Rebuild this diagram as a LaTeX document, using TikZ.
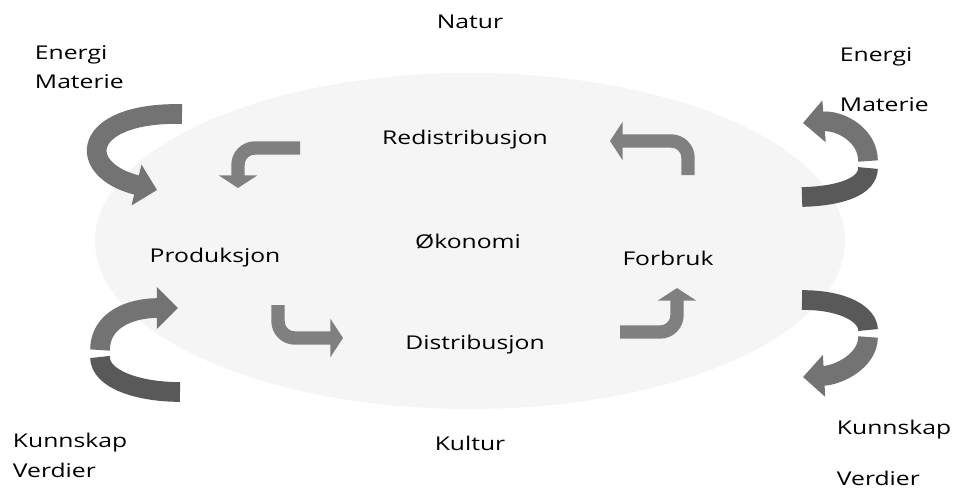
\documentclass[tikz,border=0pt]{standalone}
\usepackage{fontspec}
\setmainfont[FakeStretch=1.3]{Open Sans}
\usetikzlibrary{arrows.meta}

\begin{document}
\begin{tikzpicture}[x=0.025cm, y=-0.025cm,
	lbl/.style={font=\fontsize{13.5}{16}\selectfont, text=black},
	bigarrow/.style={draw=black!55, line width=14pt, -{Triangle[width=29pt,length=15pt]}},
	bigband/.style={draw=black!65, line width=14pt},
	smallarrow/.style={draw=black!50, line width=9.5pt, rounded corners=12pt, -{Triangle[width=27pt,length=9pt]}}]
	\useasboundingbox (0,0) rectangle (957,488);
	\fill[black!4] (470,241) ellipse [x radius=375, y radius=168];

	% ytre piler
	\draw[bigarrow] (182,114) .. controls (80,112) and (75,170) .. (157,190);
	\draw[bigarrow] (868,161) .. controls (868,135) and (840,120) .. (803,123);
	\draw[bigband] (868,168) .. controls (868,186) and (842,196) .. (802,197);
	\draw[bigarrow] (100,350) .. controls (100,320) and (130,308) .. (178,308);
	\draw[bigband] (100,357) .. controls (100,380) and (140,392) .. (180,392);
	\draw[bigband] (802,300) .. controls (845,300) and (868,315) .. (868,330);
	\draw[bigarrow] (868,337) .. controls (868,360) and (840,375) .. (803,377);

	% indre piler
	\draw[smallarrow] (300,148) -- (238,148) -- (238,188);
	\draw[smallarrow] (688,175) -- (688,141) -- (610,141);
	\draw[smallarrow] (278,305) -- (278,338) -- (343,338);
	\draw[smallarrow] (620,332) -- (677,332) -- (677,288);

	\node[lbl] (natur) at (470,22) {Natur};
	\node[lbl, anchor=west] (energiL) at (30,55) {Energi};
	\node[lbl, anchor=west] (materieL) at (30,82) {Materie};
	\node[lbl, anchor=west] (energiR) at (835,57) {Energi};
	\node[lbl, anchor=west] (materieR) at (835,105) {Materie};
	\node[lbl] (redist) at (465,140) {Redistribusjon};
	\node[lbl] (okonomi) at (468,242) {Økonomi};
	\node[lbl] (prod) at (215,258) {Produksjon};
	\node[lbl] (forbruk) at (668,258) {Forbruk};
	\node[lbl] (dist) at (475,345) {Distribusjon};
	\node[lbl] (kultur) at (470,443) {Kultur};
	\node[lbl, anchor=west] (kunnL) at (8,443) {Kunnskap};
	\node[lbl, anchor=west] (verdL) at (8,470) {Verdier};
	\node[lbl, anchor=west] (kunnR) at (832,430) {Kunnskap};
	\node[lbl, anchor=west] (verdR) at (832,478) {Verdier};
\end{tikzpicture}
\end{document}
